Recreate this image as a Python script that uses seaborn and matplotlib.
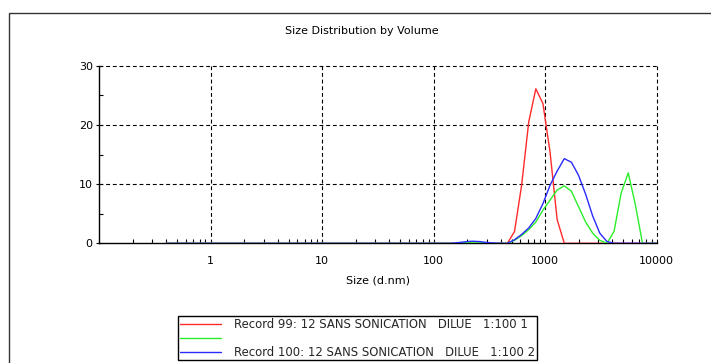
import numpy as np
import pandas as pd
import matplotlib
matplotlib.use("Agg")
import matplotlib.pyplot as plt
from matplotlib.lines import Line2D
from matplotlib.patches import Rectangle
from matplotlib.ticker import LogLocator, FixedLocator, NullFormatter
import seaborn as sns

# Size classes (d.nm) of the distribution
sizes = [0.4, 0.4632, 0.5365, 0.6213, 0.7195, 0.8332, 0.9649, 1.117, 1.294, 1.499,
         1.736, 2.010, 2.328, 2.696, 3.122, 3.615, 4.187, 4.849, 5.615, 6.503,
         7.531, 8.721, 10.10, 11.70, 13.54, 15.69, 18.17, 21.04, 24.36, 28.21,
         32.67, 37.84, 43.82, 50.75, 58.77, 68.06, 78.82, 91.28, 105.7, 122.4,
         141.8, 164.2, 190.1, 220.2, 255.0, 295.3, 342.0, 396.1, 458.7, 531.2,
         615.1, 712.4, 825.0, 955.4, 1106, 1281, 1484, 1718, 1990, 2305,
         2669, 3091, 3580, 4145, 4801, 5560, 6439, 7456, 8635, 10000]

# Volume % per size class; classes below 164 nm are all zero
zeros_head = [0.0] * 41
rec99_vol = zeros_head + [0.0, 0.0, 0.0, 0.0, 0.0, 0.0, 0.0, 0.0, 2.0,
                          9.8, 20.5, 26.1, 23.6, 15.4, 4.0, 0.0, 0.0, 0.0, 0.0,
                          0.0, 0.0, 0.0, 0.0, 0.0, 0.0, 0.0, 0.0, 0.0, 0.0]
rec99b_vol = zeros_head + [0.0, 0.15, 0.2, 0.2, 0.1, 0.0, 0.0, 0.0, 0.5,
                           1.3, 2.3, 3.6, 5.6, 7.3, 9.0, 9.7, 8.8, 6.2, 3.6,
                           1.7, 0.5, 0.0, 2.0, 8.5, 11.9, 6.5, 0.0, 0.0, 0.0]
rec100_vol = zeros_head + [0.1, 0.25, 0.35, 0.3, 0.15, 0.05, 0.0, 0.0, 0.6,
                           1.5, 2.6, 4.2, 6.7, 9.8, 12.2, 14.3, 13.7, 11.5, 8.3,
                           4.6, 1.7, 0.3, 0.0, 0.0, 0.0, 0.0, 0.0, 0.0, 0.0]

labels = ["Record 99: 12 SANS SONICATION   DILUE   1:100 1",
          "",
          "Record 100: 12 SANS SONICATION   DILUE   1:100 2"]
series_keys = ["r99", "r99b", "r100"]
colors = {"r99": "#ff2a2a", "r99b": "#2aee2a", "r100": "#2a2aff"}

df = pd.concat([
    pd.DataFrame({"size": sizes, "volume": vals, "record": key})
    for key, vals in zip(series_keys, [rec99_vol, rec99b_vol, rec100_vol])
], ignore_index=True)

sns.set_theme(style="white")
plt.rcParams["font.family"] = ["DejaVu Sans"]
plt.rcParams["font.size"] = 8

fig = plt.figure(figsize=(7.11, 3.63), dpi=100)
ax = fig.add_axes([99 / 711, 1 - 243.3 / 363, (656.7 - 99) / 711, (243.3 - 65.7) / 363])

sns.lineplot(data=df, x="size", y="volume", hue="record", hue_order=series_keys,
             palette=colors, linewidth=1.0, legend=False, ax=ax, zorder=3)

ax.set_xscale("log")
ax.set_xlim(0.1, 10000)
ax.set_ylim(0, 30)

# Dashed grid; the top and right edges are grid lines, not spines
ax.set_xticks([1, 10, 100, 1000, 10000])
ax.set_xticklabels(["1", "10", "100", "1000", "10000"])
ax.xaxis.set_minor_locator(LogLocator(base=10, subs=np.arange(2, 10)))
ax.xaxis.set_minor_formatter(NullFormatter())
ax.set_yticks([0, 10, 20, 30])
ax.yaxis.set_minor_locator(FixedLocator([5, 15, 25]))
for v in [1, 10, 100, 1000, 10000]:
    ax.axvline(v, color="black", lw=0.8, ls=(0, (3.5, 2.5)), zorder=1, clip_on=False)
for v in [10, 20, 30]:
    ax.axhline(v, color="black", lw=0.8, ls=(0, (3.5, 2.5)), zorder=1, clip_on=False)

for side in ["top", "right"]:
    ax.spines[side].set_visible(False)
for side in ["left", "bottom"]:
    ax.spines[side].set_visible(True)
    ax.spines[side].set_color("black")
    ax.spines[side].set_linewidth(1.0)
    ax.spines[side].set_zorder(2)

ax.tick_params(axis="x", which="major", bottom=True, direction="in", length=0, pad=9,
               labelsize=8, colors="black")
ax.tick_params(axis="x", which="minor", bottom=True, direction="in", length=3,
               width=0.8, colors="black")
ax.tick_params(axis="y", which="major", left=True, direction="inout", length=5,
               width=0.8, pad=2, labelsize=8, colors="black")
ax.tick_params(axis="y", which="minor", left=True, direction="in", length=3,
               width=0.8, colors="black")

ax.set_xlabel("Size (d.nm)", fontsize=8, labelpad=7, color="black")
ax.set_ylabel("")
ax.set_facecolor("white")

fig.text(362 / 711, 1 - 31 / 363, "Size Distribution by Volume", ha="center",
         va="center", fontsize=8, color="black")

# Outer frame of the report panel
fig.patches.append(Rectangle((9 / 711, -0.05), 1.0, 1 - 13 / 363 + 0.05,
                             transform=fig.transFigure, fill=False,
                             edgecolor="#333333", linewidth=1.0))

handles = [Line2D([0], [0], color=colors[k], lw=1.0) for k in series_keys]
leg = fig.legend(handles, labels, loc="upper left",
                 bbox_to_anchor=(178 / 711, 1 - 316 / 363),
                 bbox_transform=fig.transFigure, fontsize=8.4, frameon=True,
                 fancybox=False, edgecolor="black", framealpha=1,
                 handlelength=3.55, handletextpad=1.1, labelspacing=0.08,
                 borderpad=0.15, borderaxespad=0)
leg.get_frame().set_linewidth(1.0)

fig.savefig("out.png", dpi=100, facecolor="white")
